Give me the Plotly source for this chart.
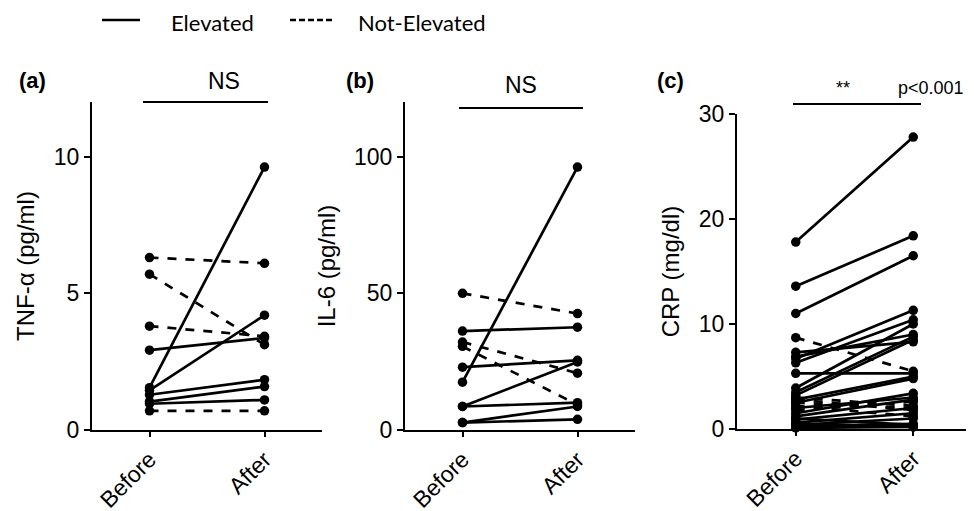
import plotly.graph_objects as go

categories = ["Before", "After"]

# Panel (a) TNF-alpha (pg/ml)
tnf_before = [6.31, 5.70, 3.80, 0.70, 2.92, 1.55, 1.45, 1.29, 1.04, 0.96]
tnf_after = [6.10, 3.12, 3.43, 0.70, 3.37, 9.62, 4.20, 1.84, 1.59, 1.10]
tnf_elev = [False, False, False, False, True, True, True, True, True, True]

# Panel (b) IL-6 (pg/ml)
il6_before = [50.0, 32.2, 30.6, 36.2, 23.0, 17.5, 8.6, 8.6, 2.7, 2.7]
il6_after = [42.6, 20.8, 9.2, 37.6, 25.5, 96.2, 24.9, 10.0, 8.6, 3.9]
il6_elev = [False, False, False, True, True, True, True, True, True, True]

# Panel (c) CRP (mg/dl)
crp_before = [17.8, 13.6, 11.0, 7.3, 6.7, 6.3, 6.9, 5.3, 3.9, 3.5, 3.2, 2.8, 2.5,
              1.5, 1.2, 0.9, 0.6, 0.4, 0.3, 0.2, 0.1, 0.5, 1.0, 2.0,
              8.7, 2.8, 2.5, 2.2, 1.8, 3.0]
crp_after = [27.8, 18.4, 16.5, 8.3, 11.3, 10.4, 9.0, 5.3, 10.0, 8.8, 8.5, 5.0, 4.8,
             3.4, 2.8, 2.0, 1.5, 1.0, 0.5, 0.3, 0.2, 0.2, 0.4, 3.0,
             5.5, 1.8, 2.0, 1.2, 2.6, 2.2]
crp_elev = [True] * 24 + [False] * 6

panels = [
    (tnf_before, tnf_after, tnf_elev, "x", "y"),
    (il6_before, il6_after, il6_elev, "x2", "y2"),
    (crp_before, crp_after, crp_elev, "x3", "y3"),
]

fig = go.Figure()
for before, after, elev, xa, ya in panels:
    order = sorted(range(len(before)), key=lambda i: elev[i])
    for i in order:
        fig.add_trace(go.Scatter(
            x=categories, y=[before[i], after[i]], xaxis=xa, yaxis=ya,
            mode="lines+markers", showlegend=False, cliponaxis=False,
            line=dict(color="black", width=2.7, dash="solid" if elev[i] else "dash"),
            marker=dict(color="black", size=9.5),
        ))

W, H = 974, 511
OX, OY = 8, 8  # page body margin offset
def fx(px):
    return (px - OX) / W
def fy(py):
    return (H - (py - OY)) / H

FAM = "Liberation Sans"
tick_font = dict(family=FAM, size=23, color="black")
title_font = dict(family=FAM, size=24, color="black")
common_x = dict(type="category", categoryorder="array", categoryarray=categories,
                range=[-0.5, 1.5], showline=True, linecolor="black", linewidth=2,
                ticks="outside", ticklen=5, tickwidth=2, tickcolor="black",
                tickangle=-45, tickfont=tick_font, showgrid=False, zeroline=False,
                automargin=False)
common_y = dict(showline=True, linecolor="black", linewidth=2, ticks="outside",
                ticklen=6, tickwidth=2, tickcolor="black", tickfont=tick_font,
                showgrid=False, zeroline=False, title_font=title_font, title_standoff=12,
                automargin=False)

fig.update_layout(
    template="none",
    width=W, height=H, margin=dict(l=0, r=0, t=0, b=0, autoexpand=False),
    plot_bgcolor="white", paper_bgcolor="white", showlegend=False,
    xaxis=dict(common_x, domain=[fx(92), fx(322)], anchor="y"),
    yaxis=dict(common_y, domain=[fy(430), fy(102)], range=[0, 12], tickvals=[0, 5, 10],
               title_text="TNF-α (pg/ml)", anchor="x"),
    xaxis2=dict(common_x, domain=[fx(405), fx(635)], anchor="y2"),
    yaxis2=dict(common_y, domain=[fy(430), fy(102)], range=[0, 120], tickvals=[0, 50, 100],
                title_text="IL-6 (pg/ml)", anchor="x2"),
    xaxis3=dict(common_x, domain=[fx(737), fx(972)], anchor="y3"),
    yaxis3=dict(common_y, domain=[fy(429), fy(114)], range=[0, 30], tickvals=[0, 10, 20, 30],
                title_text="CRP (mg/dl)", anchor="x3"),
)

# Legend
fig.add_shape(type="line", xref="paper", yref="paper", x0=fx(102), x1=fx(140),
              y0=fy(20), y1=fy(20), line=dict(color="black", width=2.7))
fig.add_shape(type="line", xref="paper", yref="paper", x0=fx(290), x1=fx(332),
              y0=fy(20), y1=fy(20), line=dict(color="black", width=2.7, dash="6px,3px"))
leg_font = dict(family="Lato", size=22, color="black")
fig.add_annotation(text="Elevated", xref="paper", yref="paper", x=fx(170), y=1.0,
                   xanchor="left", yanchor="top", showarrow=False, font=leg_font,
                   borderpad=0)
fig.add_annotation(text="Not-Elevated", xref="paper", yref="paper", x=fx(357), y=1.0,
                   xanchor="left", yanchor="top", showarrow=False, font=leg_font,
                   borderpad=0)

# Panel labels
lab_font = dict(family=FAM, size=22, color="black")
for txt, px in [("<b>(a)</b>", 17), ("<b>(b)</b>", 344), ("<b>(c)</b>", 655)]:
    fig.add_annotation(text=txt, xref="paper", yref="paper", x=fx(px), y=fy(80),
                       xanchor="left", yanchor="middle", showarrow=False, font=lab_font)

# Significance bars
for x0, x1, yb in [(143, 268, 102), (459, 583, 108), (793, 921, 104)]:
    fig.add_shape(type="line", xref="paper", yref="paper", x0=fx(x0), x1=fx(x1),
                  y0=fy(yb), y1=fy(yb), line=dict(color="black", width=2))
ns_font = dict(family=FAM, size=23, color="black")
fig.add_annotation(text="NS", xref="paper", yref="paper", x=fx(206), y=fy(81),
                   showarrow=False, font=ns_font, yanchor="middle")
fig.add_annotation(text="NS", xref="paper", yref="paper", x=fx(521), y=fy(85),
                   showarrow=False, font=ns_font, yanchor="middle")
small_font = dict(family=FAM, size=18, color="black")
fig.add_annotation(text="**", xref="paper", yref="paper", x=fx(852), y=fy(88),
                   showarrow=False, font=small_font, yanchor="middle")
fig.add_annotation(text="p<0.001", xref="paper", yref="paper", x=fx(896), y=fy(88),
                   xanchor="left", showarrow=False, font=small_font, yanchor="middle")

fig.write_html("out.html")
